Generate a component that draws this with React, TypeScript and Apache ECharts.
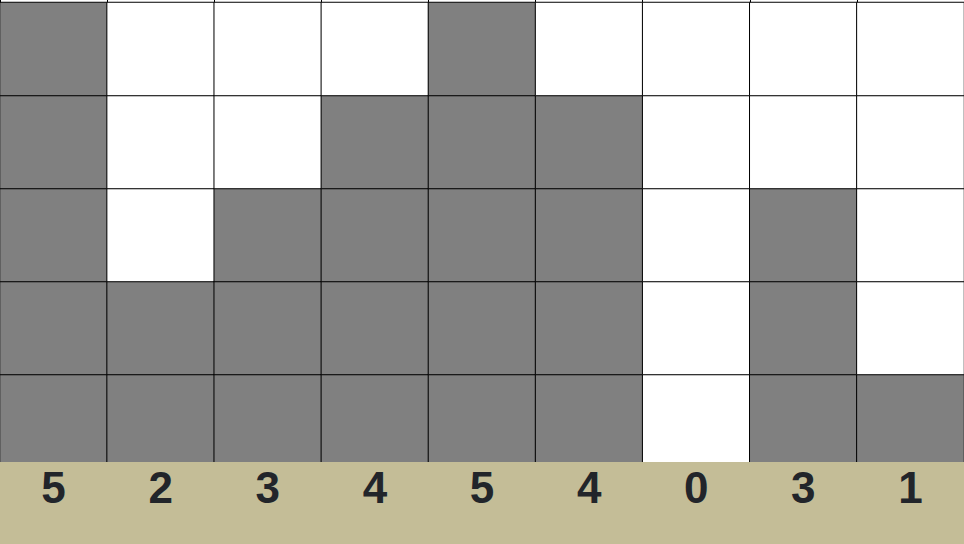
import React, { useEffect, useRef } from "react";
import * as echarts from "echarts";

const columns = ["c1", "c2", "c3", "c4", "c5", "c6", "c7", "c8", "c9"];
const counts = [5, 2, 3, 4, 5, 4, 0, 3, 1];
const rows = ["r1", "r2", "r3", "r4", "r5"];

export default function App() {
  const ref = useRef<HTMLDivElement>(null);
  useEffect(() => {
    if (!ref.current) return;
    const chart = echarts.init(ref.current, null, { renderer: "svg" });
    const data: number[][] = [];
    columns.forEach((_, x) => {
      rows.forEach((_, y) => {
        data.push([x, y, y < counts[x] ? 1 : 0]);
      });
    });
    chart.setOption({
      animation: false,
      backgroundColor: "#ffffff",
      grid: [
        { left: 0, right: 0, top: 2.5, height: 465 },
        { left: 0, right: 0, top: 0, height: 3 },
      ],
      xAxis: [
        {
          type: "category",
          data: columns,
          z: 20,
          axisLine: { show: false },
          axisTick: { show: false },
          splitLine: { show: false },
          axisLabel: {
            margin: 20,
            verticalAlign: "middle",
            fontSize: 44,
            fontWeight: "bold",
            color: "#22252a",
            fontFamily: "Liberation Sans, Arial, sans-serif",
            formatter: (_v: string, i: number) => String(counts[i]),
          },
        },
        {
          type: "category",
          gridIndex: 1,
          data: columns,
          axisLine: { show: false },
          axisTick: { show: false },
          axisLabel: { show: false },
          splitLine: { show: true, lineStyle: { color: "#000000", width: 1 } },
        },
      ],
      yAxis: [
        { type: "category", data: rows, show: false },
        { type: "value", gridIndex: 1, show: false },
      ],
      visualMap: {
        show: false,
        type: "piecewise",
        dimension: 2,
        seriesIndex: 0,
        pieces: [
          { value: 1, color: "#808080" },
          { value: 0, color: "#ffffff" },
        ],
      },
      graphic: [
        {
          type: "rect",
          z: 10,
          shape: { x: 0, y: 462, width: 964, height: 82 },
          style: { fill: "#c4bd97" },
          silent: true,
        },
      ],
      series: [
        {
          type: "heatmap",
          data,
          itemStyle: { borderColor: "#000000", borderWidth: 1 },
          emphasis: { disabled: true },
        },
      ],
    });
    return () => chart.dispose();
  }, []);
  return (
    <div
      ref={ref}
      style={{ position: "fixed", left: 0, top: 0, width: 964, height: 544 }}
    />
  );
}
